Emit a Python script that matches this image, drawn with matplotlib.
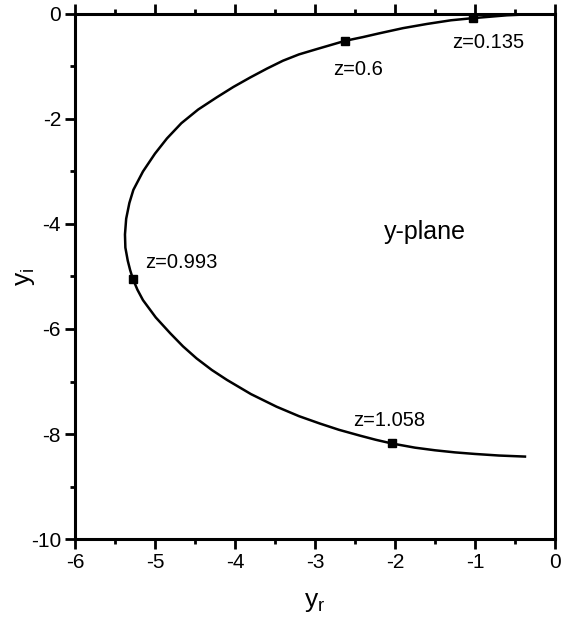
import matplotlib
matplotlib.use('Agg')
import matplotlib.pyplot as plt
from matplotlib.ticker import MultipleLocator

plt.rcParams['font.family'] = ['Liberation Sans', 'DejaVu Sans']
plt.rcParams['mathtext.fontset'] = 'custom'
plt.rcParams['mathtext.rm'] = 'Liberation Sans'
plt.rcParams['mathtext.it'] = 'Liberation Sans'
plt.rcParams['axes.unicode_minus'] = False

# curve in the y-plane
yr = [-0.02, -0.3, -0.6, -1.03, -1.3, -1.6, -1.9, -2.2, -2.4, -2.62, -2.8,
      -2.98, -3.2, -3.40, -3.6, -3.81, -4.02, -4.23, -4.46, -4.67, -4.85,
      -5.0, -5.15, -5.27, -5.32, -5.36, -5.375, -5.37, -5.34, -5.31, -5.275,
      -5.22, -5.15, -4.99, -4.81, -4.65, -4.48, -4.29, -4.10, -3.8, -3.48,
      -3.2, -2.94, -2.7, -2.44, -2.24, -2.04, -1.75, -1.5, -1.25, -1.0,
      -0.7, -0.375]
yi = [0.0, -0.005, -0.025, -0.08, -0.12, -0.19, -0.27, -0.37, -0.44, -0.51, -0.59,
      -0.67, -0.77, -0.89, -1.04, -1.21, -1.39, -1.59, -1.82, -2.08, -2.37,
      -2.66, -3.0, -3.35, -3.6, -3.9, -4.2, -4.45, -4.7, -4.88, -5.05,
      -5.25, -5.45, -5.78, -6.08, -6.33, -6.56, -6.78, -6.97, -7.24, -7.48,
      -7.66, -7.80, -7.92, -8.03, -8.11, -8.18, -8.26, -8.31, -8.35, -8.38,
      -8.41, -8.43]

# marked points
z_labels = ['z=0.135', 'z=0.6', 'z=0.993', 'z=1.058']
mark_yr = [-1.03, -2.62, -5.275, -2.04]
mark_yi = [-0.08, -0.51, -5.05, -8.18]

fig = plt.figure(figsize=(5.71, 6.24), dpi=100)
ax = fig.add_axes([0.1313, 0.1362, 0.8406, 0.8414])

ax.plot(yr, yi, color='black', lw=1.8, solid_joinstyle='round')
ax.plot(mark_yr, mark_yi, 's', color='black', ms=5.5)

# label positions beside each marker
label_xy = [(-1.29, -0.55), (-2.77, -1.05), (-5.12, -4.74), (-2.52, -7.75)]
for lab, (tx, ty) in zip(z_labels, label_xy):
    ax.text(tx, ty, lab, fontsize=14.5, ha='left', va='center')

ax.text(-1.62, -4.15, 'y-plane', fontsize=18, ha='center', va='center')

ax.set_xlim(-6, 0)
ax.set_ylim(-10, 0)
ax.xaxis.set_major_locator(MultipleLocator(1))
ax.xaxis.set_minor_locator(MultipleLocator(0.5))
ax.yaxis.set_major_locator(MultipleLocator(2))
ax.yaxis.set_minor_locator(MultipleLocator(1))
ax.tick_params(which='both', direction='out', width=2, labelsize=15,
               top=True, right=False, labeltop=False)
ax.tick_params(which='major', length=7, pad=3)
ax.tick_params(which='minor', length=3.5)
for s in ax.spines.values():
    s.set_linewidth(2.2)

ax.set_xlabel(r'$\mathrm{y_r}$', fontsize=19, va='center')
ax.set_ylabel(r'$\mathrm{y_i}$', fontsize=19, va='center')
ax.xaxis.set_label_coords(0.5, -0.12)
ax.yaxis.set_label_coords(-0.105, 0.5)

fig.savefig('out.png', dpi=100)
